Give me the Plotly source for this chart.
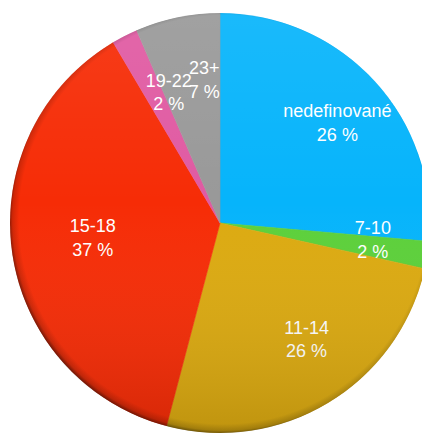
import base64
import plotly.graph_objects as go

labels = ["nedefinované", "7-10", "11-14", "15-18", "19-22", "23+"]
values = [26.4, 2.1, 25.6, 37.4, 2.0, 6.5]
colors = ["#06b4fb", "#5cd03a", "#dcaa10", "#f62c06", "#e05aa2", "#999999"]

total = sum(values)
cum = 0
mids, widths = [], []
for v in values:
    mids.append((cum + v / 2) / total * 360)
    widths.append(v / total * 360)
    cum += v
texts = [f"{l}<br>{int(v / total * 100 + 0.5)} %" for l, v in zip(labels, values)]

# the page body adds an 8 px margin, so the figure is 8 px smaller
W, H = 422, 428
# pie circle: centre (212, 215) px in figure space, radius 210 px
cx, cy, R = 212, H - 215, 210
# label frame centred near the slice apex
pcx, pcy, PR = 225, H - 212, 190

fig = go.Figure()
fig.add_trace(go.Barpolar(
    r=[1] * len(values),
    theta=mids,
    width=widths,
    marker=dict(color=colors, line=dict(color=colors, width=0.6)),
    hovertext=texts,
    hoverinfo="text",
    subplot="polar",
))

fig.add_trace(go.Scatterpolar(
    r=[0.745] * len(values),
    theta=mids,
    mode="text",
    text=texts,
    textfont=dict(family="Liberation Sans, Arial, Helvetica, sans-serif", size=18, color="white"),
    hoverinfo="skip",
    subplot="polar2",
))

svg = """<svg xmlns='http://www.w3.org/2000/svg' width='420' height='420' viewBox='0 0 420 420'>
<defs>
<radialGradient id='r' cx='0.508' cy='0.492' r='0.512'>
<stop offset='0.95' stop-color='#000' stop-opacity='0'/>
<stop offset='0.98' stop-color='#000' stop-opacity='0.16'/>
<stop offset='1' stop-color='#000' stop-opacity='0.55'/>
</radialGradient>
<linearGradient id='l' x1='0' y1='0' x2='0' y2='1'>
<stop offset='0' stop-color='#fff' stop-opacity='0.08'/>
<stop offset='0.45' stop-color='#fff' stop-opacity='0'/>
<stop offset='1' stop-color='#000' stop-opacity='0.13'/>
</linearGradient>
</defs>
<circle cx='210' cy='210' r='210' fill='url(#l)'/>
<circle cx='210' cy='210' r='210' fill='url(#r)'/>
</svg>"""
src = "data:image/svg+xml;base64," + base64.b64encode(svg.encode()).decode()

hidden_polar = dict(
    bgcolor="rgba(0,0,0,0)",
    radialaxis=dict(range=[0, 1], visible=False, showgrid=False),
    angularaxis=dict(rotation=90, direction="clockwise", visible=False, showgrid=False),
)

fig.update_layout(
    width=W, height=H,
    margin=dict(l=0, r=0, t=0, b=0),
    paper_bgcolor="white",
    plot_bgcolor="rgba(0,0,0,0)",
    showlegend=False,
    polar=dict(domain=dict(x=[(cx - R) / W, (cx + R) / W], y=[(cy - R) / H, (cy + R) / H]),
               **hidden_polar),
    polar2=dict(domain=dict(x=[(pcx - PR) / W, (pcx + PR) / W], y=[(pcy - PR) / H, (pcy + PR) / H]),
                **hidden_polar),
    images=[dict(
        source=src, xref="paper", yref="paper",
        x=(cx - R) / W, y=(cy + R) / H, sizex=2 * R / W, sizey=2 * R / H,
        xanchor="left", yanchor="top", sizing="stretch", layer="above",
    )],
)

fig.write_html("out.html")
